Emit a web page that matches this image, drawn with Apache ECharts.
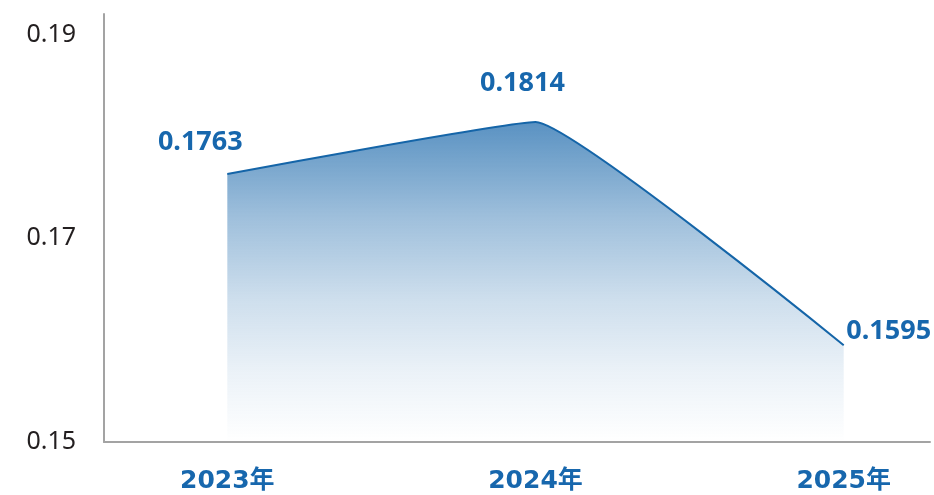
<!DOCTYPE html>
<html>
<head>
<meta charset="utf-8">
<script src="https://cdn.jsdelivr.net/npm/echarts@6/dist/echarts.min.js"></script>
<style>
  html, body { margin: 0; padding: 0; background: #fff; }
  #chart { width: 934px; height: 495px; }
</style>
</head>
<body>
<div id="chart"></div>
<script>
// data
const years = ['2023年', '2024年', '2025年'];
const values = [0.1763, 0.1814, 0.1595];
const yTicks = [0.15, 0.17, 0.19];

// label nudges, per point
const labelOffsets = [[-27, -13], [-13, -20], [45, 5]];

const chart = echarts.init(document.getElementById('chart'));

const seriesData = values.map((v, i) => ({
  value: [i, v],
  label: { offset: labelOffsets[i] }
}));

chart.setOption({
  animation: false,
  grid: { left: 104, right: 4, top: 14, bottom: 53 },
  xAxis: {
    type: 'value',
    min: -0.4,
    max: 2.28,
    axisLine: { show: true, onZero: false, lineStyle: { color: '#a3a3a3', width: 2 } },
    axisTick: { show: false },
    splitLine: { show: false },
    axisLabel: {
      customValues: years.map((y, i) => i),
      formatter: v => years[Math.round(v)],
      color: '#1767ad',
      fontSize: 25,
      fontWeight: 'bold',
      fontFamily: '"DejaVu Sans", "Noto Sans CJK SC", sans-serif',
      margin: 27
    }
  },
  yAxis: {
    type: 'value',
    min: 0.15,
    max: 0.192,
    axisLine: { show: true, onZero: false, lineStyle: { color: '#a3a3a3', width: 2 } },
    axisTick: { show: false },
    splitLine: { show: false },
    axisLabel: {
      customValues: yTicks,
      formatter: v => v.toFixed(2),
      color: '#231f20',
      fontSize: 25,
      fontFamily: '"Noto Sans", sans-serif',
      margin: 28
    }
  },
  series: [{
    type: 'line',
    data: seriesData,
    smooth: 0.1,
    symbol: 'circle',
    symbolSize: 0,
    lineStyle: { color: '#1565a8', width: 2 },
    itemStyle: { color: '#1565a8' },
    areaStyle: {
      color: new echarts.graphic.LinearGradient(0, 0, 0, 1, [
        { offset: 0, color: 'rgba(19,99,168,1)' },
        { offset: 0.3, color: 'rgba(19,99,168,0.58)' },
        { offset: 0.55, color: 'rgba(19,99,168,0.3)' },
        { offset: 0.78, color: 'rgba(19,99,168,0.12)' },
        { offset: 1, color: 'rgba(19,99,168,0)' }
      ])
    },
    label: {
      show: true,
      position: 'top',
      distance: 5,
      formatter: p => p.value[1].toFixed(4),
      color: '#1767ad',
      fontSize: 27,
      fontWeight: 'bold',
      fontFamily: '"Noto Sans", sans-serif'
    }
  }]
});
</script>
</body>
</html>
